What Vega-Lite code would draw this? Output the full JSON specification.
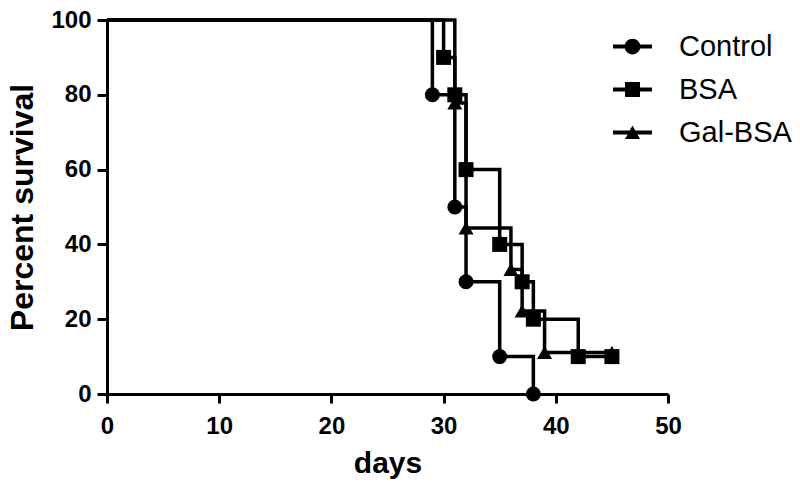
{
  "$schema": "https://vega.github.io/schema/vega-lite/v6.json",
  "width": 561,
  "height": 374,
  "autosize": {"type": "none"},
  "padding": {"left": 107, "top": 20, "right": 132, "bottom": 95},
  "background": "white",
  "config": {
    "view": {"stroke": null},
    "font": "Liberation Sans",
    "axis": {
      "grid": false,
      "domainColor": "black",
      "domainWidth": 3,
      "tickColor": "black",
      "tickWidth": 3,
      "labelColor": "black",
      "labelFont": "Liberation Sans",
      "labelFontSize": 24,
      "labelFontWeight": "bold",
      "labelOverlap": false,
      "labelFlush": false,
      "titleColor": "black",
      "titleFont": "Liberation Sans",
      "titleFontWeight": "bold"
    }
  },
  "data": {
    "values": [
      {"group": "Control", "day": 0, "pct": 100},
      {"group": "Control", "day": 29, "pct": 80},
      {"group": "Control", "day": 31, "pct": 50},
      {"group": "Control", "day": 32, "pct": 30},
      {"group": "Control", "day": 35, "pct": 10},
      {"group": "Control", "day": 38, "pct": 0},
      {"group": "BSA", "day": 0, "pct": 100},
      {"group": "BSA", "day": 30, "pct": 90},
      {"group": "BSA", "day": 31, "pct": 80},
      {"group": "BSA", "day": 32, "pct": 60},
      {"group": "BSA", "day": 35, "pct": 40},
      {"group": "BSA", "day": 37, "pct": 30},
      {"group": "BSA", "day": 38, "pct": 20},
      {"group": "BSA", "day": 42, "pct": 10},
      {"group": "BSA", "day": 45, "pct": 10},
      {"group": "Gal-BSA", "day": 0, "pct": 100},
      {"group": "Gal-BSA", "day": 31, "pct": 77.8},
      {"group": "Gal-BSA", "day": 32, "pct": 44.4},
      {"group": "Gal-BSA", "day": 36, "pct": 33.3},
      {"group": "Gal-BSA", "day": 37, "pct": 22.2},
      {"group": "Gal-BSA", "day": 39, "pct": 11.1},
      {"group": "Gal-BSA", "day": 45, "pct": 11.1}
    ]
  },
  "encoding": {
    "x": {
      "field": "day", "type": "quantitative",
      "scale": {"domain": [0, 50], "nice": false, "zero": false},
      "axis": {"title": "days", "titleFontSize": 30, "values": [0, 10, 20, 30, 40, 50], "tickSize": 9, "labelPadding": 11, "titlePadding": 10}
    },
    "y": {
      "field": "pct", "type": "quantitative",
      "scale": {"domain": [0, 100], "nice": false},
      "axis": {"title": "Percent survival", "titleFontSize": 32, "values": [0, 20, 40, 60, 80, 100], "tickSize": 10, "labelPadding": 6, "titlePadding": 11}
    }
  },
  "layer": [
    {
      "mark": {"type": "line", "interpolate": "step-after", "color": "black", "strokeWidth": 3.5, "clip": false},
      "encoding": {"detail": {"field": "group"}}
    },
    {
      "transform": [{"filter": "datum.day > 0"}],
      "mark": {"type": "point", "filled": true, "color": "black", "opacity": 1, "size": 225, "strokeWidth": 0},
      "encoding": {
        "shape": {
          "field": "group", "type": "nominal",
          "scale": {"domain": ["Control", "BSA", "Gal-BSA"], "range": ["circle", "square", "triangle-up"]},
          "legend": null
        }
      }
    },
    {
      "mark": {"type": "point", "filled": true, "color": "black", "opacity": 0, "size": 225},
      "encoding": {
        "shape": {
          "field": "group", "type": "nominal",
          "scale": {"domain": ["Control", "BSA", "Gal-BSA"], "range": [
            "M-2.6,-0.27H2.6V0.27H-2.6Z M-1.05,0A1.05,1.05 0 1,1 1.05,0A1.05,1.05 0 1,1 -1.05,0Z",
            "M-2.6,-0.27H2.6V0.27H-2.6Z M-1,-1H1V1H-1Z",
            "M-2.6,-0.27H2.6V0.27H-2.6Z M-1,0.85L0,-0.95L1,0.85Z"
          ]},
          "legend": {
            "title": null,
            "orient": "none",
            "legendX": 511,
            "legendY": 12,
            "padding": 0,
            "symbolSize": 225,
            "symbolFillColor": "black",
            "symbolStrokeColor": "black",
            "symbolStrokeWidth": 0,
            "symbolOpacity": 1,
            "labelFont": "Liberation Sans",
            "labelFontSize": 29,
            "labelColor": "black",
            "labelOffset": 32,
            "rowPadding": 13
          }
        }
      }
    }
  ],
  "resolve": {"scale": {"shape": "independent"}}
}
